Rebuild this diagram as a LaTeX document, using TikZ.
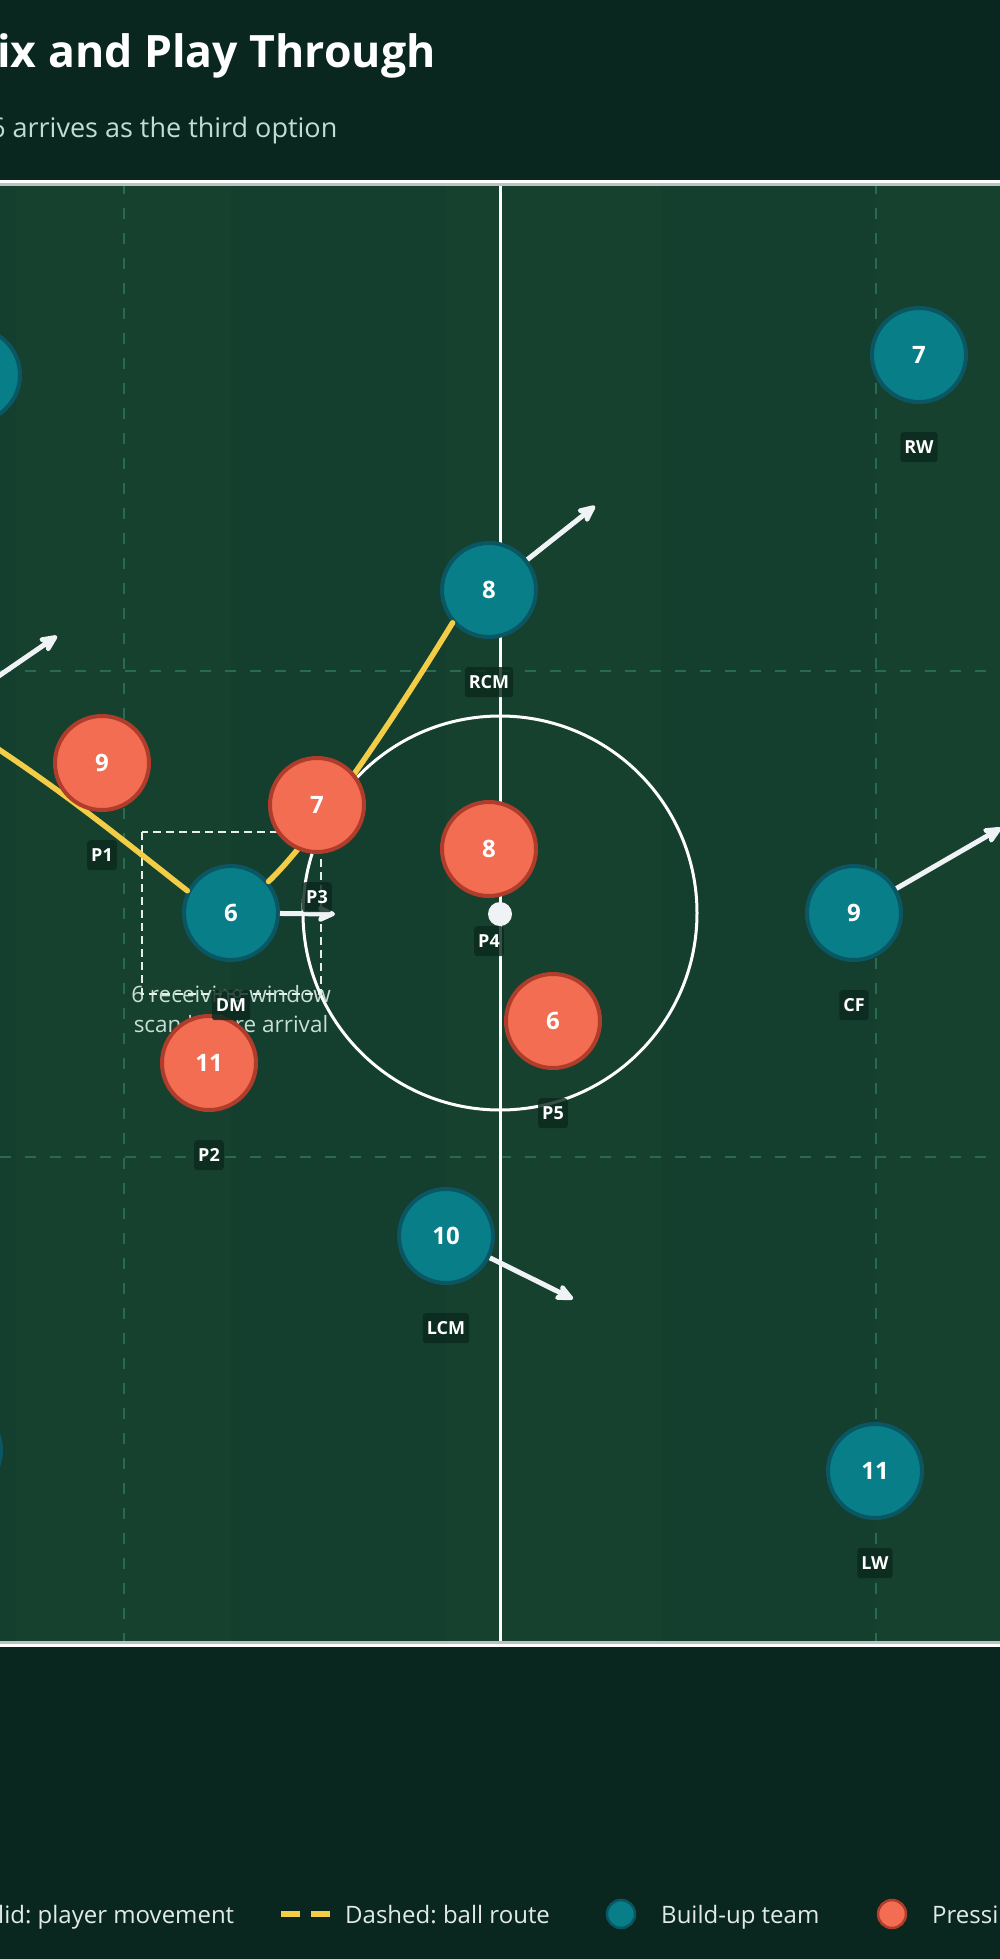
\documentclass[tikz,border=0pt]{standalone}
\usepackage{fontspec}
\setmainfont{Open Sans}
\frenchspacing
\usetikzlibrary{positioning,arrows.meta}

\definecolor{bgdark}{HTML}{09271F}
\definecolor{pitchgreen}{HTML}{143E2E}
\definecolor{stripegreen}{HTML}{16412F}
\definecolor{lanegreen}{HTML}{2A6A50}
\definecolor{rimgrey}{HTML}{B7C4BF}
\definecolor{tealfill}{HTML}{087E89}
\definecolor{tealring}{HTML}{0B5663}
\definecolor{redfill}{HTML}{F26D51}
\definecolor{redring}{HTML}{B03C2B}
\definecolor{tagbg}{HTML}{0C291F}
\definecolor{movewhite}{HTML}{F0F3F5}
\definecolor{routeyellow}{HTML}{F2CD45}
\definecolor{subgrey}{HTML}{BFDDD0}
\definecolor{notegrey}{HTML}{C8DFD5}
\definecolor{legendgrey}{HTML}{E2EAE6}
\definecolor{windowline}{HTML}{E4EFEA}

\begin{document}
\begin{tikzpicture}[x=1pt, y=-1pt,
	player/.style={circle, minimum size=94pt, inner sep=0pt, line width=4pt, text=white, font=\bfseries\fontsize{24}{24}\selectfont},
	build/.style={player, fill=tealfill, draw=tealring},
	press/.style={player, fill=redfill, draw=redring},
	tag/.style={fill=tagbg, fill opacity=0.82, text opacity=1, text=white, rounded corners=3pt, inner xsep=4pt, inner ysep=0pt, minimum height=30pt, font=\bfseries\fontsize{18}{18}\selectfont},
	lane/.style={draw=lanegreen, line width=2pt, dash pattern=on 11pt off 14pt},
	pitchline/.style={draw=white, line width=3pt},
	move/.style={draw=movewhite, line width=5pt, -{Stealth[length=22pt, width=20pt, inset=5pt, round]}},
	route/.style={draw=routeyellow, line width=5.5pt, line cap=round},
	legtext/.style={anchor=base west, inner sep=0pt, text=legendgrey, font=\fontsize{24}{24}\selectfont}
	]
	
	\useasboundingbox (0,0) rectangle (1000,1959);
	\fill[bgdark] (0,0) rectangle (1000,1959);
	
	% pitch
	\fill[pitchgreen] (-50,182) rectangle (1050,1644);
	\foreach \sx in {16,446,876}
	\fill[stripegreen] (\sx,182) rectangle (\sx+215,1644);
	
	\draw[lane] (124,183) -- (124,1644);
	\draw[lane] (876,183) -- (876,1644);
	\draw[lane] (-50,671) -- (1050,671);
	\draw[lane] (-50,1157) -- (1050,1157);
	
	\draw[white, line width=3pt] (-50,181) -- (1050,181);
	\draw[rimgrey, line width=3pt] (-50,184) -- (1050,184);
	\draw[rimgrey, line width=3pt] (-50,1642.5) -- (1050,1642.5);
	\draw[white, line width=3pt] (-50,1645.5) -- (1050,1645.5);
	
	\draw[pitchline] (500,185.5) -- (500,1641);
	\draw[pitchline] (500,913) circle[radius=197];
	
	% titles
	\node[anchor=base west, inner sep=0pt, text=white, font=\bfseries\fontsize{44.6}{50}\selectfont] (title) at (-3,67) {ix and Play Through};
	\node[anchor=base west, inner sep=0pt, text=subgrey, font=\fontsize{27}{30}\selectfont] (subtitle) at (-10,137) {6 arrives as the third option};
	
	% receiving window
	\node[anchor=base, inner sep=0pt, text=notegrey, font=\fontsize{22.5}{30}\selectfont] (notea) at (231,1002) {6 receiving window};
	\node[anchor=base, inner sep=0pt, text=notegrey, font=\fontsize{22.5}{30}\selectfont] (noteb) at (231,1032) {scan before arrival};
	\draw[windowline, line width=2.5pt, dash pattern=on 8pt off 5pt] (142,832) rectangle (321,994);
	
	% build-up team
	\node[build] (lb) at (-27,375) {};
	\node[build] (lcb) at (-46,1450) {};
	\node[build] (rw) at (919,355) {7};
	\node[build] (rcm) at (489,590) {8};
	\node[build] (dm) at (231,913) {6};
	\node[build] (cf) at (854,913) {9};
	\node[build] (lcm) at (446,1236) {10};
	\node[build] (lw) at (875,1471) {11};
	
	% ball route
	\coordinate (routefrom) at (-60,712);
	\draw[route] (routefrom) .. controls (47,777) and (120,838) .. (dm.153);
	\draw[route] (dm.40) .. controls (313,839) and (392,722) .. (rcm.222);
	
	% runs
	\coordinate (lbfrom) at (-45,706);
	\coordinate (lbrun) at (57,636);
	\coordinate (rcmrun) at (595,506);
	\coordinate (cfrun) at (1001,828);
	\coordinate (lcmrun) at (573,1299);
	\coordinate (dmrun) at (335,914);
	\draw[move] (lbfrom) -- (lbrun);
	\draw[move] (rcm) -- (rcmrun);
	\draw[move] (cf) -- (cfrun);
	\draw[move] (lcm) -- (lcmrun);
	\draw[move] (dm) -- (dmrun);
	
	% pressing team
	\node[press] (p1) at (102,763) {9};
	\node[press] (p2) at (209,1063) {11};
	\node[press] (p3) at (317,805) {7};
	\node[press] (p4) at (489,849) {8};
	\node[press] (p5) at (553,1021) {6};
	
	\node[circle, fill=movewhite, minimum size=24pt, inner sep=0pt] (ball) at (500,914) {};
	
	\node[tag, below=28pt of rw] (rwtag) {RW};
	\node[tag, below=28pt of rcm] (rcmtag) {RCM};
	\node[tag, below=28pt of dm] (dmtag) {DM};
	\node[tag, below=28pt of cf] (cftag) {CF};
	\node[tag, below=28pt of lcm] (lcmtag) {LCM};
	\node[tag, below=28pt of lw] (lwtag) {LW};
	\node[tag, below=28pt of p1] (p1tag) {P1};
	\node[tag, below=28pt of p2] (p2tag) {P2};
	\node[tag, below=28pt of p3] (p3tag) {P3};
	\node[tag, below=28pt of p4] (p4tag) {P4};
	\node[tag, below=28pt of p5] (p5tag) {P5};
	
	% legend
	\draw[routeyellow, line width=6pt, dash pattern=on 19pt off 11pt] (281,1914) -- (330,1914);
	\node[legtext] (keyroute) at (345,1923) {Dashed: ball route};
	\node[legtext] (keymove) at (-2,1923) {lid: player movement};
	\node[circle, fill=tealfill, draw=tealring, line width=2.5pt, minimum size=28pt, inner sep=0pt] (keybuild) at (621,1914) {};
	\node[legtext] (keybuildtext) at (661,1923) {Build-up team};
	\node[circle, fill=redfill, draw=redring, line width=2.5pt, minimum size=28pt, inner sep=0pt] (keypress) at (892,1914) {};
	\node[legtext] (keypresstext) at (932,1923) {Pressi};
	
\end{tikzpicture}
\end{document}
